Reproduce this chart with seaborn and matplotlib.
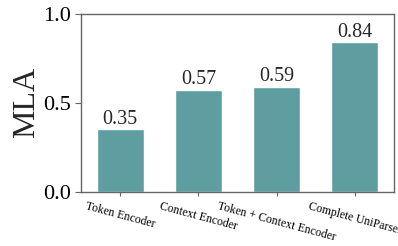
import matplotlib
matplotlib.use("Agg")
import matplotlib.pyplot as plt
import seaborn as sns
import pandas as pd

categories = ["Token Encoder", "Context Encoder", "Token + Context Encoder", "Complete UniParser"]
values = [0.35, 0.57, 0.59, 0.84]
labels = ["0.35", "0.57", "0.59", "0.84"]

sns.set_style("ticks")
plt.rcParams['font.family'] = ['Liberation Serif', 'TeX Gyre Termes', 'FreeSerif']
plt.rcParams['font.serif'] = ['Liberation Serif', 'TeX Gyre Termes', 'FreeSerif']

df = pd.DataFrame({"model": categories, "MLA": values})
fig, ax = plt.subplots(figsize=(3.98, 2.46), dpi=100)
fig.subplots_adjust(left=0.2035, right=0.99, top=0.943, bottom=0.2215)

sns.barplot(data=df, x="model", y="MLA", color="#5F9EA0", saturation=1, width=0.6, ax=ax)
for i, (v, t) in enumerate(zip(values, labels)):
    ax.text(i, v + 0.005, t, ha="center", va="bottom", fontsize=14.5)

ax.set_ylim(0, 1.0)
ax.set_yticks([0.0, 0.5, 1.0])
ax.set_yticklabels(["0.0", "0.5", "1.0"], fontsize=16)
ax.set_xlabel("")
ax.set_ylabel("MLA", fontsize=23, labelpad=1)
ax.set_xticks(range(len(categories)))
ax.set_xticklabels(categories, rotation=-15, ha="center", fontsize=8.5)
for s in ax.spines.values():
    s.set_visible(True)
    s.set_color("#666666")
    s.set_linewidth(1.0)
ax.tick_params(axis="both", colors="#666666", labelcolor="black")
ax.tick_params(axis="y", length=4)
ax.tick_params(axis="x", length=3)

fig.savefig("out.png", dpi=100)
